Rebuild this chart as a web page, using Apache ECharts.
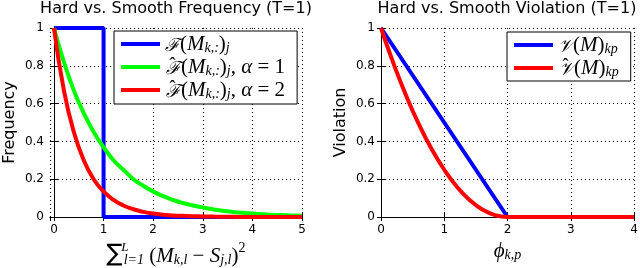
<!DOCTYPE html>
<html><head><meta charset="utf-8">
<script src="https://cdn.jsdelivr.net/npm/echarts@6/dist/echarts.min.js"></script>
<style>html,body{margin:0;padding:0;background:#fff}#c{width:640px;height:268px}</style>
</head><body><div id="c"></div>
<script>
// ---- Data ----
const freqX = [0,0.2,0.4,0.6,0.8,1.0,1.2,1.4,1.6,1.8,2.0,2.2,2.4,2.6,2.8,3.0,3.2,3.4,3.6,3.8,4.0,4.2,4.4,4.6,4.8,5.0];
const smoothFreqA1 = [1,0.82,0.67,0.55,0.45,0.37,0.30,0.25,0.20,0.165,0.135,0.11,0.09,0.074,0.061,0.05,0.041,0.033,0.027,0.022,0.018,0.015,0.012,0.01,0.008,0.007];
const smoothFreqA2 = [1,0.67,0.45,0.30,0.20,0.135,0.09,0.061,0.041,0.027,0.018,0.012,0.008,0.006,0.004,0.003,0.002,0.001,0.001,0,0,0,0,0,0,0];
const hardFreqX = [0,1,1,5];
const hardFreqY = [1,1,0,0];
const phiX = [0,0.2,0.4,0.6,0.8,1.0,1.2,1.4,1.6,1.8,2.0,2.2,2.4,2.6,2.8,3.0,3.2,3.4,3.6,3.8,4.0];
const smoothViol = [1,0.81,0.64,0.49,0.36,0.25,0.16,0.09,0.04,0.01,0,0,0,0,0,0,0,0,0,0,0];
const hardViolX = [0,2,4];
const hardViolY = [1,0,0];
const titles = ['Hard vs. Smooth Frequency (T=1)', 'Hard vs. Smooth Violation (T=1)'];
const yNames = ['Frequency', 'Violation'];

const pair = (xs, ys) => xs.map((x, i) => [x, ys[i]]);

const MF = 'Liberation Serif';
const rich = {
  n: {fontFamily: MF, fontSize: 21, lineHeight: 22, verticalAlign: 'bottom', color: '#000'},
  i: {fontFamily: MF, fontSize: 21, fontStyle: 'italic', lineHeight: 22, verticalAlign: 'bottom', color: '#000'},
  c: {fontFamily: 'DejaVu Serif', fontSize: 18, fontStyle: 'italic', lineHeight: 22, verticalAlign: 'bottom', color: '#000'},
  h: {fontFamily: MF, fontSize: 18, lineHeight: 12, verticalAlign: 'top', color: '#000', width: 1},
  s: {fontFamily: MF, fontSize: 14, fontStyle: 'italic', lineHeight: 10, verticalAlign: 'bottom', color: '#000'},
  sup: {fontFamily: MF, fontSize: 14, lineHeight: 10, verticalAlign: 'top', color: '#000'},
  supw: {fontFamily: MF, fontSize: 13, fontStyle: 'italic', lineHeight: 8, verticalAlign: 'top', color: '#000', width: 1},
  big: {fontFamily: 'DejaVu Sans', fontSize: 24, lineHeight: 26, verticalAlign: 'bottom', color: '#000'}
};
const legendText = {
  'F': '{c|ℱ}{n|(}{i|M}{s|k,:}{n|)}{s|j}',
  'Fhat1': '{h|\u00a0ˆ}{c|ℱ}{n|(}{i|M}{s|k,:}{n|)}{s|j}{n|, }{i|α}{n| = 1}',
  'Fhat2': '{h|\u00a0ˆ}{c|ℱ}{n|(}{i|M}{s|k,:}{n|)}{s|j}{n|, }{i|α}{n| = 2}',
  'V': '{c|𝒱}{n|(}{i|M}{n|)}{s|kp}',
  'Vhat': '{h|\u00a0ˆ}{c|𝒱}{n|(}{i|M}{n|)}{s|kp}'
};

const axisCommon = {
  axisLine: {show: true, lineStyle: {color: '#000', width: 1}},
  axisTick: {show: true, inside: true, length: 4, lineStyle: {color: '#000'}},
  axisLabel: {color: '#000', fontFamily: 'DejaVu Sans', fontSize: 12, margin: 6},
  splitLine: {show: true, lineStyle: {color: '#000', type: [1, 3], width: 1}}
};
const mirror = {
  axisLine: {show: true, lineStyle: {color: '#000', width: 1}},
  axisTick: {show: true, inside: true, length: 4, lineStyle: {color: '#000'}},
  axisLabel: {show: false},
  splitLine: {show: false}
};

const grids = [
  {left: 50, right: 338, top: 28, bottom: 51, containLabel: false, outerBoundsMode: 'none'},
  {left: 381, right: 6, top: 28, bottom: 51, containLabel: false, outerBoundsMode: 'none'}
];

const option = {
  animation: false,
  backgroundColor: '#fff',
  title: titles.map((t, k) => ({
    text: t, left: k === 0 ? 176 : 507, textAlign: 'center', top: 1, padding: 0,
    textStyle: {fontFamily: 'DejaVu Sans', fontSize: 16, fontWeight: 'normal', color: '#000'}
  })),
  grid: grids,
  xAxis: [
    Object.assign({}, axisCommon, {type: 'value', gridIndex: 0, min: -0.08, max: 5, splitNumber: 5,
      axisLabel: Object.assign({}, axisCommon.axisLabel, {showMinLabel: false, margin: 7}),
      name: '{big|∑}{supw|\u00a0L}{s|l=1}{n| (}{i|M}{s|k,l}{n| − }{i|S}{s|j,l}{n|)}{sup|2}',
      nameLocation: 'middle', nameGap: 21, nameTextStyle: {rich: rich}}),
    Object.assign({}, mirror, {type: 'value', gridIndex: 0, position: 'top', min: -0.08, max: 5, splitNumber: 5}),
    Object.assign({}, axisCommon, {type: 'value', gridIndex: 1, min: 0, max: 4, interval: 1,
      axisLabel: Object.assign({}, axisCommon.axisLabel, {margin: 7}),
      name: '{i|ϕ}{s|k,p}', nameLocation: 'middle', nameGap: 22, nameTextStyle: {rich: rich}}),
    Object.assign({}, mirror, {type: 'value', gridIndex: 1, position: 'top', min: 0, max: 4, interval: 1})
  ],
  yAxis: [
    Object.assign({}, axisCommon, {type: 'value', gridIndex: 0, min: 0, max: 1, interval: 0.2,
      name: yNames[0], nameLocation: 'middle', nameGap: 32,
      nameTextStyle: {fontFamily: 'DejaVu Sans', fontSize: 16, color: '#000'}}),
    Object.assign({}, mirror, {type: 'value', gridIndex: 0, position: 'right', min: 0, max: 1, interval: 0.2}),
    Object.assign({}, axisCommon, {type: 'value', gridIndex: 1, min: 0, max: 1, interval: 0.2,
      name: yNames[1], nameLocation: 'middle', nameGap: 32,
      nameTextStyle: {fontFamily: 'DejaVu Sans', fontSize: 16, color: '#000'}}),
    Object.assign({}, mirror, {type: 'value', gridIndex: 1, position: 'right', min: 0, max: 1, interval: 0.2})
  ],
  legend: [
    {orient: 'vertical', left: 114, top: 31, data: ['F', 'Fhat1', 'Fhat2'], icon: 'rect',
     itemWidth: 39, itemHeight: 4, itemGap: 1, padding: [3, 12, 3, 7], selectedMode: false,
     borderColor: '#000', borderWidth: 1, backgroundColor: '#fff',
     formatter: n => legendText[n], textStyle: {rich: rich}},
    {orient: 'vertical', left: 507, top: 32, data: ['V', 'Vhat'], icon: 'rect',
     itemWidth: 39, itemHeight: 4, itemGap: 1, padding: [3, 12, 2, 7], selectedMode: false,
     borderColor: '#000', borderWidth: 1, backgroundColor: '#fff',
     formatter: n => legendText[n], textStyle: {rich: rich}}
  ],
  series: [
    {name: 'F', type: 'line', xAxisIndex: 0, yAxisIndex: 0, data: pair(hardFreqX, hardFreqY),
     showSymbol: false, color: '#0000ff', lineStyle: {width: 4, color: '#0000ff'}, z: 2},
    {name: 'Fhat1', type: 'line', xAxisIndex: 0, yAxisIndex: 0, data: pair(freqX, smoothFreqA1),
     showSymbol: false, smooth: 0.5, color: '#00ff00', lineStyle: {width: 4, color: '#00ff00'}, z: 3},
    {name: 'Fhat2', type: 'line', xAxisIndex: 0, yAxisIndex: 0, data: pair(freqX, smoothFreqA2),
     showSymbol: false, smooth: 0.5, color: '#ff0000', lineStyle: {width: 4, color: '#ff0000'}, z: 4},
    {name: 'V', type: 'line', xAxisIndex: 2, yAxisIndex: 2, data: pair(hardViolX, hardViolY),
     showSymbol: false, color: '#0000ff', lineStyle: {width: 4, color: '#0000ff'}, z: 2},
    {name: 'Vhat', type: 'line', xAxisIndex: 2, yAxisIndex: 2, data: pair(phiX, smoothViol),
     showSymbol: false, smooth: 0.5, color: '#ff0000', lineStyle: {width: 4, color: '#ff0000'}, z: 4}
  ]
};
const chart = echarts.init(document.getElementById('c'), null, {renderer: 'canvas'});
chart.setOption(option);
</script>
</body></html>
